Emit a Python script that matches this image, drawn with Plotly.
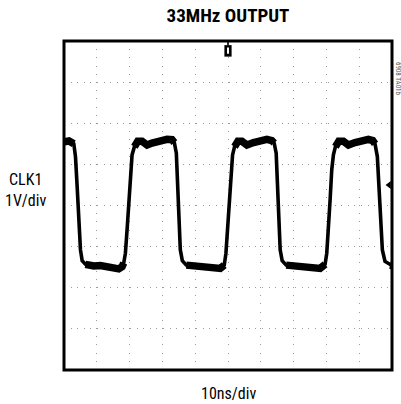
import plotly.graph_objects as go

# ---- data (time in ns, CLK1 in volts / divisions) ----
time_ns = [0, 1.5, 2.99, 3.50, 4.01, 4.52, 5.02, 5.53, 6.54, 8.07,
           9.08, 11.11, 13.14, 15.17, 16.69, 17.71, 18.21,
           18.72, 19.23, 19.74, 20.24, 20.75, 21.46, 22.48,
           23.79, 25.32, 26.84, 29.38, 31.41, 32.93, 33.64,
           34.25, 34.65, 35.06, 35.46, 36.07, 37.29,
           39.52, 41.55, 43.58, 45.61, 47.64, 48.86,
           49.37, 49.87, 50.38, 50.89, 51.39, 52.00, 53.02,
           54.24, 55.76, 57.79, 59.82, 61.85, 63.37, 64.08,
           64.69, 65.09, 65.50, 65.91, 66.51, 67.73,
           69.96, 71.99, 74.02, 76.05, 78.08, 79.60,
           80.11, 80.62, 81.13, 81.63, 82.14, 82.75, 83.77,
           85.18, 86.71, 88.74, 90.77, 92.79, 94.12, 94.82,
           95.53, 96.04, 96.55, 97.06, 97.87, 99.39, 100]
clk_v = [5.55, 5.57, 5.50, 5.19, 4.46, 3.65, 2.92, 2.66, 2.57, 2.53,
         2.53, 2.54, 2.51, 2.45, 2.46, 2.51, 2.60,
         2.84, 3.41, 4.14, 4.87, 5.23, 5.43, 5.56,
         5.56, 5.47, 5.52, 5.58, 5.61, 5.60, 5.53,
         5.27, 4.46, 3.65, 2.92, 2.66, 2.55,
         2.53, 2.54, 2.51, 2.46, 2.47, 2.55,
         2.84, 3.41, 4.14, 4.87, 5.23, 5.43, 5.56,
         5.56, 5.47, 5.53, 5.58, 5.61, 5.58, 5.52,
         5.27, 4.46, 3.65, 2.92, 2.66, 2.55,
         2.53, 2.54, 2.51, 2.46, 2.47, 2.57,
         2.84, 3.41, 4.14, 4.87, 5.23, 5.43, 5.56,
         5.56, 5.47, 5.53, 5.58, 5.61, 5.58, 5.50,
         5.19, 4.46, 3.65, 2.92, 2.64, 2.55, 2.54]

trigger_time_ns = [50]
trigger_level_v = [4.5]

title_text = "<b>33MHz OUTPUT</b>"
channel_label = "CLK1"
volt_scale = "1V/div"
time_scale = "10ns/div"
figure_id = "6908 TA01b"

NARROW = "Liberation Sans Narrow, Roboto Condensed, Arial Narrow, Liberation Sans, sans-serif"

# plateau overlay (noisy flat parts look thicker on the scope)
plateau_v = [v if (v >= 5.40 or v <= 2.62) else None for v in clk_v]

fig = go.Figure()
fig.add_trace(go.Scatter(x=time_ns, y=clk_v, mode="lines",
                         line=dict(color="black", width=3.6), hoverinfo="skip",
                         showlegend=False))
fig.add_trace(go.Scatter(x=time_ns, y=plateau_v, mode="lines", connectgaps=False,
                         line=dict(color="black", width=7.5), hoverinfo="skip",
                         showlegend=False))
# trigger level marker on the right edge
fig.add_trace(go.Scatter(x=[99.1], y=trigger_level_v, mode="markers",
                         marker=dict(symbol="triangle-left", size=7, color="black"),
                         cliponaxis=False, hoverinfo="skip", showlegend=False))

# trigger position marker at top
t0 = trigger_time_ns[0]
fig.add_shape(type="rect", xref="x", yref="y", x0=t0 - 1.1, x1=t0 + 1.1, y0=7.62, y1=7.90,
              line=dict(width=0), fillcolor="black")
fig.add_shape(type="rect", xref="x", yref="y", x0=t0 - 0.25, x1=t0 + 0.25, y0=7.90, y1=8.0,
              line=dict(width=0), fillcolor="black")
fig.add_shape(type="rect", xref="x", yref="y", x0=t0 - 0.3, x1=t0 + 0.3, y0=7.69, y1=7.84,
              line=dict(width=0), fillcolor="white")

# frame
fig.add_shape(type="rect", xref="x domain", yref="y domain", x0=0, x1=1, y0=0, y1=1,
              line=dict(color="black", width=3), fillcolor="rgba(0,0,0,0)")

fig.update_xaxes(range=[0, 100], dtick=10, showticklabels=False, ticks="",
                 showgrid=True, gridcolor="#9a9a9a", gridwidth=1, griddash="1px,7.2px",
                 zeroline=False, showline=False, fixedrange=True)
fig.update_yaxes(range=[0, 8], dtick=1, showticklabels=False, ticks="",
                 showgrid=True, gridcolor="#9a9a9a", gridwidth=1, griddash="1px,5.6px",
                 zeroline=False, showline=False, fixedrange=True)

fig.update_layout(
    width=401, height=404,
    margin=dict(l=63.5, r=9, t=41, b=34, pad=0),
    paper_bgcolor="white", plot_bgcolor="white",
    title=dict(text=title_text, x=0.5, xref="paper", xanchor="center",
               y=1 - 15 / 404, yref="container", yanchor="middle",
               font=dict(family=NARROW, size=19, color="black")),
    annotations=[
        dict(text=channel_label + "<br>" + volt_scale, xref="paper", yref="paper",
             x=-0.117, y=0.548, xanchor="center", yanchor="middle", showarrow=False,
             align="center", font=dict(family=NARROW, size=16, color="black")),
        dict(text=time_scale, xref="paper", yref="paper", x=0.5, y=-0.070,
             xanchor="center", yanchor="middle", showarrow=False,
             font=dict(family=NARROW, size=16, color="black")),
        dict(text=figure_id, xref="paper", yref="paper", x=1.018, y=0.885,
             xanchor="center", yanchor="middle", showarrow=False, textangle=90,
             font=dict(family=NARROW, size=7, color="#555555")),
    ],
)

fig.write_html("out.html", config={"displayModeBar": False, "staticPlot": True},
               post_script="document.body.style.margin='0';document.body.style.padding='0';")
